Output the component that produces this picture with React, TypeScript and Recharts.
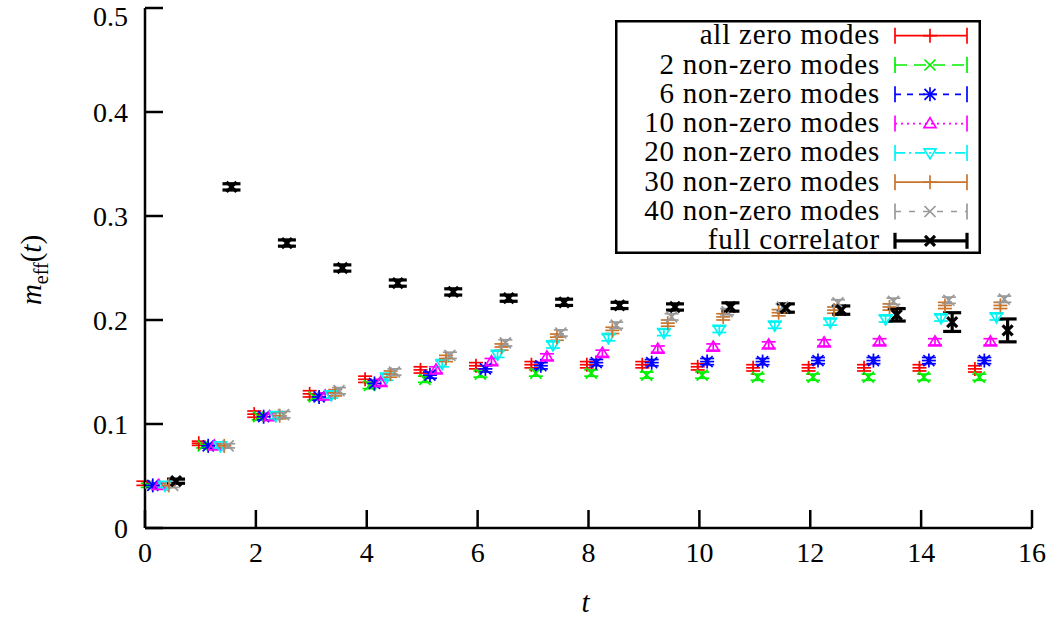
import React from 'react';
import { ScatterChart, Scatter, XAxis, YAxis, ErrorBar, Legend } from 'recharts';

// ---------- data ----------
const T = [0, 1, 2, 3, 4, 5, 6, 7, 8, 9, 10, 11, 12, 13, 14, 15];
const X_TICKS = [0, 2, 4, 6, 8, 10, 12, 14, 16];
const Y_TICKS = [0, 0.1, 0.2, 0.3, 0.4, 0.5];

const SERIES_NAMES = [
  'all zero modes',
  '2 non-zero modes',
  '6 non-zero modes',
  '10 non-zero modes',
  '20 non-zero modes',
  '30 non-zero modes',
  '40 non-zero modes',
  'full correlator',
];

// horizontal shift of each series relative to t (data units)
const X_SHIFTS = [-0.03, 0.05, 0.14, 0.25, 0.36, 0.43, 0.5, 0.56];

const allZeroModes = [0.043, 0.0815, 0.1095, 0.129, 0.143, 0.152, 0.156, 0.157, 0.157, 0.157, 0.155, 0.154, 0.154, 0.154, 0.154, 0.153];
const nonZero2 = [0.041, 0.079, 0.107, 0.126, 0.137, 0.143, 0.148, 0.149, 0.149, 0.147, 0.147, 0.145, 0.145, 0.145, 0.145, 0.145];
const nonZero6 = [0.041, 0.079, 0.107, 0.126, 0.139, 0.147, 0.153, 0.156, 0.159, 0.159, 0.16, 0.16, 0.161, 0.161, 0.161, 0.161];
const nonZero10 = [0.041, 0.079, 0.107, 0.127, 0.14, 0.152, 0.16, 0.1645, 0.168, 0.172, 0.174, 0.176, 0.178, 0.179, 0.179, 0.179];
const nonZero20 = [0.041, 0.079, 0.108, 0.128, 0.145, 0.158, 0.167, 0.176, 0.183, 0.188, 0.191, 0.195, 0.198, 0.201, 0.202, 0.203];
const nonZero30 = [0.041, 0.079, 0.108, 0.13, 0.148, 0.163, 0.174, 0.1835, 0.19, 0.197, 0.203, 0.207, 0.2095, 0.2125, 0.214, 0.214];
const nonZero40 = [0.041, 0.079, 0.109, 0.132, 0.15, 0.166, 0.178, 0.1875, 0.195, 0.203, 0.208, 0.2125, 0.2165, 0.218, 0.219, 0.22];
const fullCorrelator = [0.045, 0.328, 0.274, 0.25, 0.2355, 0.227, 0.221, 0.217, 0.214, 0.2125, 0.2125, 0.2115, 0.2095, 0.205, 0.198, 0.19];

const smallErr = [0.002, 0.002, 0.003, 0.003, 0.003, 0.003, 0.003, 0.003, 0.003, 0.003, 0.003, 0.003, 0.003, 0.003, 0.003, 0.003];
const fullErr = [0.002, 0.003, 0.003, 0.003, 0.003, 0.003, 0.003, 0.003, 0.003, 0.003, 0.004, 0.004, 0.004, 0.006, 0.009, 0.011];

const SERIES_VALUES = [allZeroModes, nonZero2, nonZero6, nonZero10, nonZero20, nonZero30, nonZero40, fullCorrelator];
const SERIES_ERRORS = [smallErr, smallErr, smallErr, smallErr, smallErr, smallErr, smallErr, fullErr];

// ---------- styles ----------
const COLORS = ['#ff0000', '#00f000', '#0000ff', '#ff00ff', '#00f4f4', '#c8742c', '#999999', '#000000'];
const MARKERS = ['plus', 'cross', 'star', 'tri', 'itri', 'plus', 'cross', 'xbold'];
const DASHES = [undefined, '12 7', '6 6', '2 4', '10 4 2 4', undefined, '6 8', undefined];
const SW = [1.7, 1.7, 1.7, 1.7, 1.7, 1.7, 1.7, 3.2];
const CAPS = [7, 7, 7, 7, 7, 7, 7, 9];

const FONT = 'Liberation Serif';

function Marker({ kind, cx, cy, color, sw }: { kind: string; cx: number; cy: number; color: string; sw: number }) {
  const s = 7;
  const d = 5.5;
  const plus = (
    <>
      <line x1={cx - s} y1={cy} x2={cx + s} y2={cy} />
      <line x1={cx} y1={cy - s} x2={cx} y2={cy + s} />
    </>
  );
  const cross = (
    <>
      <line x1={cx - d} y1={cy - d} x2={cx + d} y2={cy + d} />
      <line x1={cx - d} y1={cy + d} x2={cx + d} y2={cy - d} />
    </>
  );
  let body: React.ReactNode = null;
  if (kind === 'plus') body = plus;
  else if (kind === 'cross') body = cross;
  else if (kind === 'star') body = (<>{plus}{cross}</>);
  else if (kind === 'tri') body = <polygon points={`${cx},${cy - 6} ${cx - 6},${cy + 4} ${cx + 6},${cy + 4}`} fill="none" />;
  else if (kind === 'itri') body = <polygon points={`${cx},${cy + 6} ${cx - 6},${cy - 4} ${cx + 6},${cy - 4}`} fill="none" />;
  else if (kind === 'xbold') body = (
    <>
      <line x1={cx - 5} y1={cy - 5} x2={cx + 5} y2={cy + 5} />
      <line x1={cx - 5} y1={cy + 5} x2={cx + 5} y2={cy - 5} />
    </>
  );
  return <g stroke={color} strokeWidth={sw} fill="none">{body}</g>;
}

const makeShape = (i: number) => (props: any) => {
  const { cx, cy } = props;
  if (cx == null || cy == null) return <g />;
  return <Marker kind={MARKERS[i]} cx={cx} cy={cy} color={COLORS[i]} sw={SW[i]} />;
};

const seriesData = SERIES_VALUES.map((vals, i) =>
  T.map((t, k) => ({ x: t + X_SHIFTS[i], y: vals[k], err: SERIES_ERRORS[i][k] }))
);

// ---------- legend ----------
const LEG_W = 366;
const LEG_H = 234;
const renderLegend = () => (
  <div style={{ width: LEG_W, height: LEG_H, position: 'relative' }}>
    <svg width={LEG_W} height={LEG_H} style={{ position: 'absolute', left: 0, top: 0, overflow: 'visible' }}>
      <rect x={1.25} y={1.25} width={LEG_W - 2.5} height={LEG_H - 2.5} fill="none" stroke="#000" strokeWidth={2.5} />
      {SERIES_NAMES.map((name, i) => {
        const yc = 15.7 + 29.3 * i;
        const c = COLORS[i];
        return (
          <g key={name}>
            <text x={265} y={yc + 8.5} textAnchor="end" fontFamily={FONT} fontSize={29} letterSpacing={0.8} fill="#000">
              {name}
            </text>
            <g stroke={c} strokeWidth={SW[i]}>
              <line x1={280} y1={yc} x2={352} y2={yc} strokeDasharray={DASHES[i]} />
              <line x1={280} y1={yc - 8} x2={280} y2={yc + 8} />
              <line x1={352} y1={yc - 8} x2={352} y2={yc + 8} />
            </g>
            <Marker kind={MARKERS[i]} cx={315} cy={yc} color={c} sw={SW[i]} />
          </g>
        );
      })}
    </svg>
  </div>
);

const XTitle = (props: any) => {
  const vb = props.viewBox || {};
  const cx = (vb.x || 0) + (vb.width || 0) / 2 - 3;
  return (
    <text x={cx} y={(vb.y || 0) + 84} textAnchor="middle" fontFamily={FONT} fontSize={29} fontStyle="italic" fill="#000">
      t
    </text>
  );
};

const YTitle = (props: any) => {
  const vb = props.viewBox || {};
  const cy = (vb.y || 0) + (vb.height || 0) / 2 + 2;
  const cx = 41;
  return (
    <text x={cx} y={cy} transform={`rotate(-90, ${cx}, ${cy})`} textAnchor="middle" fontFamily={FONT} fontSize={29} fill="#000">
      <tspan fontStyle="italic">m</tspan>
      <tspan fontSize={20} dy={7}>eff</tspan>
      <tspan dy={-7}>(</tspan>
      <tspan fontStyle="italic">t</tspan>
      <tspan>)</tspan>
    </text>
  );
};

const tickStyle = { fontFamily: FONT, fontSize: 28, fill: '#000' };

export default function App() {
  return (
    <div style={{ position: 'absolute', left: 0, top: 0, width: 1052, height: 617, background: '#fff', fontFamily: FONT }}>
      <ScatterChart width={1052} height={617} margin={{ top: 8, right: 20, bottom: 0, left: 0 }}>
        <XAxis
          type="number"
          dataKey="x"
          domain={[0, 16]}
          ticks={X_TICKS}
          allowDataOverflow
          height={89}
          tickSize={-18}
          tickMargin={32}
          tick={tickStyle}
          axisLine={{ stroke: '#000', strokeWidth: 2.5 }}
          tickLine={{ stroke: '#000', strokeWidth: 2.5 }}
          label={<XTitle />}
        />
        <XAxis
          xAxisId="top"
          orientation="top"
          type="number"
          domain={[0, 16]}
          ticks={X_TICKS}
          allowDataOverflow
          height={0}
          tickSize={-18}
          tick={false}
          axisLine={{ stroke: '#000', strokeWidth: 2.5 }}
          tickLine={{ stroke: '#000', strokeWidth: 2.5 }}
        />
        <YAxis
          type="number"
          dataKey="y"
          domain={[0, 0.5]}
          ticks={Y_TICKS}
          allowDataOverflow
          width={145}
          tickSize={-18}
          tickMargin={35}
          tick={tickStyle}
          axisLine={{ stroke: '#000', strokeWidth: 2.5 }}
          tickLine={{ stroke: '#000', strokeWidth: 2.5 }}
          label={<YTitle />}
        />
        <YAxis
          yAxisId="right"
          orientation="right"
          type="number"
          domain={[0, 0.5]}
          ticks={Y_TICKS}
          allowDataOverflow
          width={0}
          tickSize={-18}
          tick={false}
          axisLine={{ stroke: '#000', strokeWidth: 2.5 }}
          tickLine={{ stroke: '#000', strokeWidth: 2.5 }}
        />
        {seriesData.map((data, i) => (
          <Scatter
            key={SERIES_NAMES[i]}
            name={SERIES_NAMES[i]}
            data={data}
            fill={COLORS[i]}
            shape={makeShape(i)}
            isAnimationActive={false}
          >
            <ErrorBar
              dataKey="err"
              direction="y"
              width={CAPS[i]}
              stroke={COLORS[i]}
              strokeWidth={SW[i]}
              isAnimationActive={false}
            />
          </Scatter>
        ))}
        <Legend
          content={renderLegend}
          layout="horizontal"
          verticalAlign="middle"
          align="center"
          wrapperStyle={{ position: 'absolute', left: 615, top: 20, width: LEG_W, height: LEG_H }}
        />
      </ScatterChart>
    </div>
  );
}
